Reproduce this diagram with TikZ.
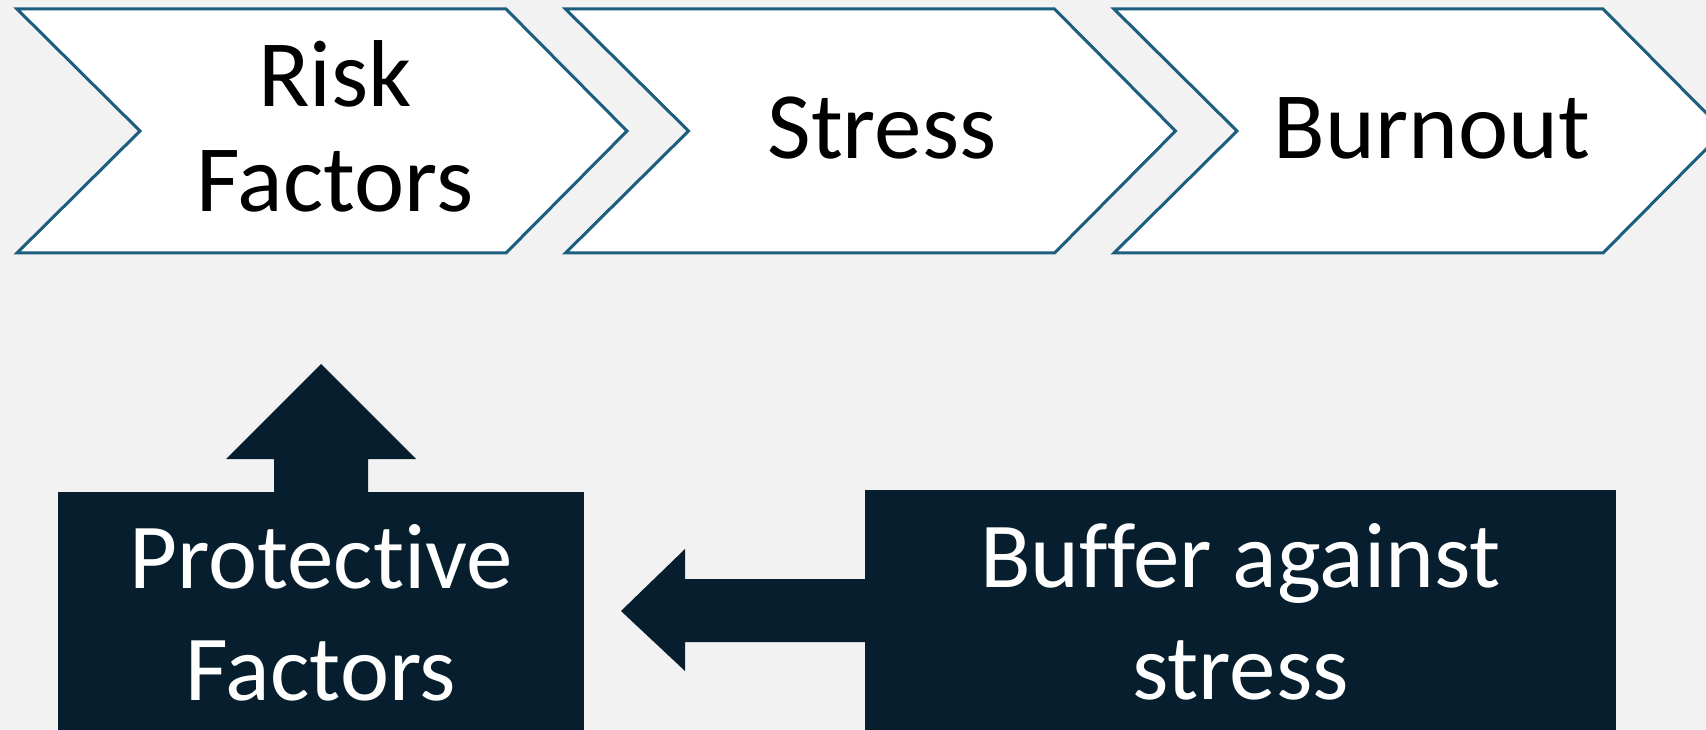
\documentclass[tikz,border=0pt]{standalone}
\usepackage{fontspec}
\setmainfont[Ligatures={NoCommon,NoRare}]{Carlito}
\definecolor{bgc}{HTML}{F2F2F2}
\definecolor{chevline}{HTML}{1B5E7E}
\definecolor{darkc}{HTML}{061E2D}
\tikzset{
  chev/.style={draw=chevline, line width=3pt, fill=white, line join=miter},
  toplabel/.style={font=\fontsize{95}{105}\selectfont, text=black, align=center, inner sep=0pt},
  botlabel/.style={font=\fontsize{93}{112}\selectfont, text=white, align=center, inner sep=0pt},
  darkbox/.style={fill=darkc, draw=none, inner sep=0pt},
  blockarrow/.style={fill=darkc, draw=none}
}
\begin{document}
\begin{tikzpicture}[x=1pt,y=-1pt]
\useasboundingbox (0,0) rectangle (1706,730);
\fill[bgc] (0,0) rectangle (1706,730);
\begin{scope}
\clip (0,0) rectangle (1706,730);
% chevrons
\draw[chev] (17,9) -- (506,9) -- (627,131) -- (506,253) -- (17,253) -- (140,131) -- cycle;
\draw[chev] (565.5,9) -- (1054.5,9) -- (1175.5,131) -- (1054.5,253) -- (565.5,253) -- (688.5,131) -- cycle;
\draw[chev] (1114,9) -- (1603,9) -- (1724,131) -- (1603,253) -- (1114,253) -- (1237,131) -- cycle;
\node[toplabel] (risk) at (335,126) {Risk\\Factors};
\node[toplabel] (stress) at (882,128) {Stress};
\node[toplabel] (burnout) at (1432,128) {Burnout};
% dark boxes
\path[darkbox] (58,492) rectangle (584,740);
\coordinate (prot) at (321,613);
\path[darkbox] (865,490) rectangle (1616,740);
\coordinate (buf) at (1240.5,612);
\node[botlabel] (protlabel) at (prot) {Protective\\Factors};
\node[botlabel] (buflabel) at (buf) {Buffer against\\stress};
% up arrow
\fill[blockarrow] (274,493) -- (274,459) -- (226,459) -- (321,364) -- (416,459) -- (368,459) -- (368,493) -- cycle;
% left arrow
\fill[blockarrow] (866,579) -- (685,579) -- (685,549) -- (621,611) -- (685,671) -- (685,642) -- (866,642) -- cycle;
\end{scope}
\end{tikzpicture}
\end{document}
